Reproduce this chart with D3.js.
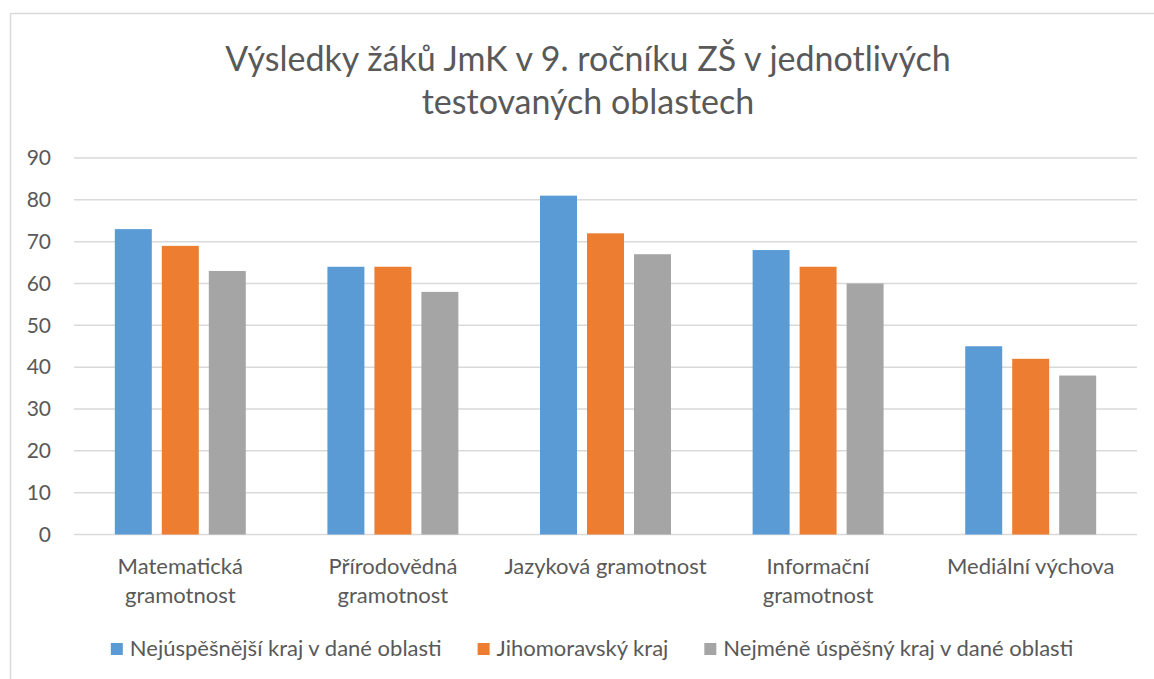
<!DOCTYPE html>
<html>
<head>
<meta charset="utf-8">
<script src="https://cdn.jsdelivr.net/npm/d3@7"></script>
<style>
  body { margin: 0; background: #fff; }
  text { font-family: Lato, "Open Sans", sans-serif; fill: #595959; }
</style>
</head>
<body>
<div id="chart"></div>
<script>
// chart data
const categories = [
  ["Matematická", "gramotnost"],
  ["Přírodovědná", "gramotnost"],
  ["Jazyková gramotnost"],
  ["Informační", "gramotnost"],
  ["Mediální výchova"]
];
const seriesNames = [
  "Nejúspěšnější kraj v dané oblasti",
  "Jihomoravský kraj",
  "Nejméně úspěšný kraj v dané oblasti"
];
const best = [73, 64, 81, 68, 45];
const jmk = [69, 64, 72, 64, 42];
const worst = [63, 58, 67, 60, 38];
const yTicks = [0, 10, 20, 30, 40, 50, 60, 70, 80, 90];
const colors = ["#5B9BD5", "#ED7D31", "#A5A5A5"];

const width = 1154;
const height = 679;
const margin = { left: 74, right: 17, top: 158, bottom: 145 };

const svg = d3.select("#chart")
  .append("svg")
  .attr("width", width)
  .attr("height", height);

// chart border
svg.append("rect")
  .attr("x", 10.5).attr("y", 13.5)
  .attr("width", 1170).attr("height", 700)
  .attr("fill", "none")
  .attr("stroke", "#D9D9D9")
  .attr("stroke-width", 1.5);

// title
const title = svg.append("text")
  .attr("text-anchor", "middle")
  .attr("font-size", 34);
title.append("tspan").attr("x", 588).attr("y", 71)
  .text("Výsledky žáků JmK v 9. ročníku ZŠ v jednotlivých");
title.append("tspan").attr("x", 588).attr("y", 114)
  .text("testovaných oblastech");

// scales
const yScale = d3.scaleLinear()
  .domain([0, 90])
  .range([height - margin.bottom + 0.5, margin.top]);

const x0 = d3.scaleBand()
  .domain(d3.range(categories.length))
  .range([margin.left, width - margin.right])
  .paddingInner(0.384)
  .paddingOuter(0.192);

const x1 = d3.scaleBand()
  .domain(d3.range(seriesNames.length))
  .range([0, x0.bandwidth()])
  .paddingInner(0.213);

// gridlines
svg.append("g")
  .selectAll("line")
  .data(yTicks)
  .enter()
  .append("line")
  .attr("x1", margin.left)
  .attr("x2", width - margin.right)
  .attr("y1", d => yScale(d))
  .attr("y2", d => yScale(d))
  .attr("stroke", "#D9D9D9")
  .attr("stroke-width", 1.5);

// y axis labels
const yAxis = svg.append("g")
  .attr("transform", `translate(${margin.left - 23}, 0)`)
  .call(d3.axisLeft(yScale).tickValues(yTicks).tickSize(0).tickPadding(0));
yAxis.select(".domain").remove();
yAxis.selectAll("text")
  .attr("font-size", 21)
  .attr("fill", null);
yAxis.attr("font-family", null);

// bars
const series = [best, jmk, worst];
const groups = svg.append("g")
  .selectAll("g")
  .data(categories)
  .enter()
  .append("g")
  .attr("transform", (d, i) => `translate(${x0(i)}, 0)`);

groups.selectAll("rect")
  .data((d, i) => series.map((s, j) => ({ s: j, v: s[i] })))
  .enter()
  .append("rect")
  .attr("x", d => x1(d.s))
  .attr("y", d => yScale(d.v))
  .attr("width", x1.bandwidth())
  .attr("height", d => yScale(0) - yScale(d.v))
  .attr("fill", d => colors[d.s]);

// category labels
const xLabels = svg.append("g")
  .selectAll("text")
  .data(categories)
  .enter()
  .append("text")
  .attr("text-anchor", "middle")
  .attr("font-size", 22);
xLabels.each(function (lines, i) {
  const t = d3.select(this);
  lines.forEach((line, k) => {
    t.append("tspan")
      .attr("x", x0(i) + x0.bandwidth() / 2)
      .attr("y", 574 + k * 29)
      .text(line);
  });
});

// legend
const legend = svg.append("g");
const items = legend.selectAll("g")
  .data(seriesNames)
  .enter()
  .append("g");
items.append("rect")
  .attr("width", 12).attr("height", 12)
  .attr("y", 643)
  .attr("fill", (d, i) => colors[i]);
items.append("text")
  .attr("x", 19)
  .attr("y", 656)
  .attr("font-size", 22)
  .text(d => d);

let offset = 0;
const gap = 36;
items.each(function () {
  const w = this.querySelector("text").getComputedTextLength() + 19;
  d3.select(this).attr("data-w", w);
});
const total = d3.sum(items.nodes(), n => +n.getAttribute("data-w")) + gap * (seriesNames.length - 1);
offset = 592 - total / 2;
items.each(function () {
  d3.select(this).attr("transform", `translate(${offset}, 0)`);
  offset += +this.getAttribute("data-w") + gap;
});
</script>
</body>
</html>
